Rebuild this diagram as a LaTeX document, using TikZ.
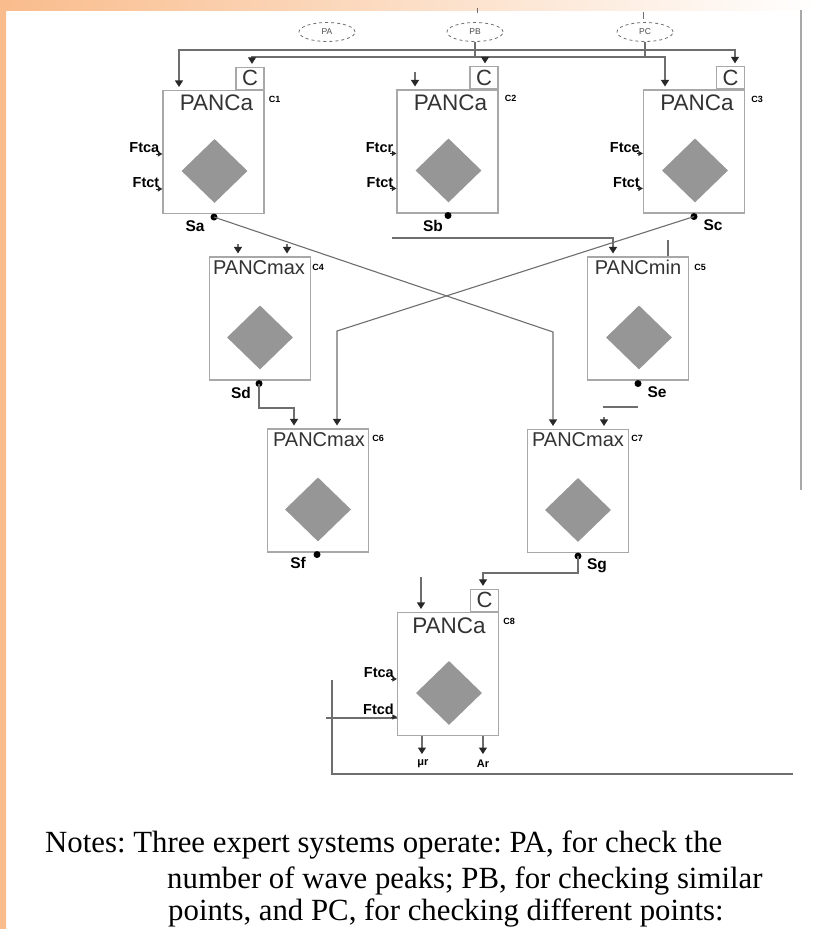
\documentclass[tikz,border=0pt]{standalone}
\usepackage{fontspec}
\setmainfont{Liberation Serif}
\newfontfamily\arial{Liberation Sans}
\usetikzlibrary{arrows.meta,shapes.geometric,calc}
\definecolor{boxc}{RGB}{168,168,168}
\definecolor{linec}{RGB}{110,110,110}
\definecolor{diac}{RGB}{150,150,150}
\definecolor{arrc}{RGB}{40,40,40}
\definecolor{peach}{RGB}{249,188,140}
\definecolor{peachl}{RGB}{253,228,208}
\tikzset{
  panc/.style={draw=boxc, line width=1.1pt, minimum width=101pt, minimum height=123pt, inner sep=0pt},
  cbox/.style={draw=boxc, line width=1.1pt, minimum width=28pt, minimum height=22pt, inner sep=0pt,
    font=\arial\fontsize{22}{22}\selectfont, text=black!80, anchor=south east},
  titlea/.style={font=\arial\fontsize{22.5}{22.5}\selectfont, text=black!80, inner sep=0pt},
  titlem/.style={font=\arial\fontsize{20}{20}\selectfont, text=black!80, inner sep=0pt},
  dia/.style={diamond, fill=diac, minimum width=66pt, minimum height=64pt, inner sep=0pt},
  clab/.style={font=\arial\bfseries\fontsize{9}{9}\selectfont, inner sep=0pt, anchor=west},
  slab/.style={font=\arial\bfseries\fontsize{15.5}{15.5}\selectfont, inner sep=0pt},
  flab/.style={font=\arial\bfseries\fontsize{14.5}{14.5}\selectfont, inner sep=0pt, anchor=south east},
  olab/.style={font=\arial\bfseries\fontsize{11}{11}\selectfont, inner sep=0pt},
  sdot/.style={circle, fill=black, minimum size=7pt, inner sep=0pt},
  conn/.style={draw=linec, line width=1.1pt},
  tip/.tip={Triangle[width=8pt,length=6.5pt,color=arrc]},
  arr/.style={conn, -tip, shorten >=3pt},
  arrb/.style={conn, tip-tip, shorten >=3pt, shorten <=3pt},
  sarr/.style={draw=arrc, line width=0.9pt, -{Triangle[width=5pt,length=4.5pt]}},
  ell/.style={ellipse, draw=linec, dashed, line width=0.8pt, minimum width=56pt, minimum height=19pt,
    inner sep=0pt, font=\arial\fontsize{8.5}{8.5}\selectfont, text=black!70},
  notes/.style={font=\fontsize{30.8}{34}\selectfont\frenchspacing, inner sep=0pt, anchor=base west}
}
\begin{document}
\begin{tikzpicture}[x=1pt,y=-1pt]
\useasboundingbox (0,0) rectangle (819,929);
\fill[white] (0,0) rectangle (819,929);
% background bands
\shade[left color=peach, right color=white] (0,0) rectangle (819,10);
\shade[top color=peach, bottom color=peach] (0,0) rectangle (6,929);
% right rule
\draw[boxc, line width=1.5pt] (801,10) -- (801,490);

% boxes
\node[panc] (c1) at (213.5,152) {};
\node[panc] (c2) at (447.5,151.5) {};
\node[panc] (c3) at (694,151.5) {};
\node[panc] (c4) at (260,318.5) {};
\node[panc] (c5) at (638,318.5) {};
\node[panc] (c6) at (318,490.5) {};
\node[panc] (c7) at (578,491) {};
\node[panc] (c8) at (448,674) {};

% C boxes
\node[cbox] (cc1) at (c1.north east) {C};
\node[cbox] (cc2) at (c2.north east) {C};
\node[cbox] (cc3) at (c3.north east) {C};
\node[cbox] (cc8) at (c8.north east) {C};

% titles
\node[titlea] (t1) at ($(c1.north)+(3,13)$) {PANCa};
\node[titlea] (t2) at ($(c2.north)+(3,13)$) {PANCa};
\node[titlea] (t3) at ($(c3.north)+(3,13)$) {PANCa};
\node[titlem] (t4) at ($(c4.north)+(-1,11)$) {PANCmax};
\node[titlem] (t5) at ($(c5.north)+(0,11)$) {PANCmin};
\node[titlem] (t6) at ($(c6.north)+(1,11)$) {PANCmax};
\node[titlem] (t7) at ($(c7.north)+(0,11)$) {PANCmax};
\node[titlea] (t8) at ($(c8.north)+(1,14)$) {PANCa};

% small labels
\node[clab] (l1) at ($(c1.north east)+(4,9)$) {C1};
\node[clab] (l2) at ($(c2.north east)+(6,9)$) {C2};
\node[clab] (l3) at ($(c3.north east)+(6,10)$) {C3};
\node[clab] (l4) at ($(c4.north east)+(1,11)$) {C4};
\node[clab] (l5) at ($(c5.north east)+(5,11)$) {C5};
\node[clab] (l6) at ($(c6.north east)+(3,10)$) {C6};
\node[clab] (l7) at ($(c7.north east)+(2,9)$) {C7};
\node[clab] (l8) at ($(c8.north east)+(4,9)$) {C8};

% diamonds
\node[dia] (d1) at ($(c1.north)+(1,81)$) {};
\node[dia] (d2) at ($(c2.north)+(1,81)$) {};
\node[dia] (d3) at ($(c3.north)+(1,81)$) {};
\node[dia] (d4) at ($(c4.north)+(0,81)$) {};
\node[dia] (d5) at ($(c5.north)+(1,81)$) {};
\node[dia] (d6) at ($(c6.north)+(0,81)$) {};
\node[dia] (d7) at ($(c7.north)+(0,81)$) {};
\node[dia] (d8) at ($(c8.north)+(1,81)$) {};

% output dots
\node[sdot] (sa) at ($(c1.south)+(0.5,3)$) {};
\node[sdot] (sb) at ($(c2.south)+(0.5,2)$) {};
\node[sdot] (sc) at ($(c3.south)+(0,3)$) {};
\node[sdot] (sd) at ($(c4.south)+(-1,3)$) {};
\node[sdot] (se) at ($(c5.south)+(0,3)$) {};
\node[sdot] (sf) at ($(c6.south)+(-1,2)$) {};
\node[sdot] (sg) at ($(c7.south)+(0,3)$) {};
\node[slab] at ($(sa)+(-19,9)$) {Sa};
\node[slab] at ($(sb)+(-15,10)$) {Sb};
\node[slab] at ($(sc)+(19,9)$) {Sc};
\node[slab] at ($(sd)+(-18,9)$) {Sd};
\node[slab] at ($(se)+(19,9)$) {Se};
\node[slab] at ($(sf)+(-19,8)$) {Sf};
\node[slab] at ($(sg)+(19,10)$) {Sg};

% input labels
\foreach \b/\la/\lb in {c1/Ftca/Ftct, c2/Ftcr/Ftct, c3/Ftce/Ftct}{
  \draw[sarr] ($(\b.north west)+(-6,64)$) -- ($(\b.north west)+(0,64)$);
  \draw[sarr] ($(\b.north west)+(-6,99)$) -- ($(\b.north west)+(0,99)$);
  \node[flab] at ($(\b.north west)+(-3,63)$) {\la};
  \node[flab] at ($(\b.north west)+(-3,98)$) {\lb};
}
\draw[sarr] ($(c8.north west)+(-6,67)$) -- ($(c8.north west)+(0,67)$);
\node[flab] at ($(c8.north west)+(-3,66)$) {Ftca};
\node[flab] at ($(c8.north west)+(-3,103)$) {Ftcd};

% ellipses
\node[ell] (pa) at (327,32) {PA};
\node[ell] (pb) at (475,32) {PB};
\node[ell] (pc) at (645,32) {PC};
\draw[linec, line width=0.8pt] (477,8) -- (477,13);
\draw[linec, line width=0.8pt] (643,12) -- (643,19);

% top distribution lines
\coordinate (u1) at (179,50);
\coordinate (u2) at (735,50);
\coordinate (w1) at (252,57);
\coordinate (w2) at (665,57);
\coordinate (w3) at (485,57);
\coordinate (w4) at (415,72);
\draw[arrb] (u2|-cc3.north) -- (u2) -- (u1) -- (u1|-c1.north);
\draw[arrb] (w1|-cc1.north) -- (w1) -- (w2) -- (w2|-c3.north);
\draw[conn] (pb.south) -- (pb.south|-w1);
\draw[conn] (pc.south) -- (pc.south|-w1);
\draw[arr] (w3) -- (w3|-cc2.north);
\draw[arr] (w4) -- (w4|-c2.north);

% crossing connectors
\coordinate (k1) at (553,332);
\coordinate (k2) at (337,331);
\draw[arr] (sa.center) -- (k1) -- (k1|-c7.north);
\draw[arr] (sc.center) -- (k2) -- (k2|-c6.north);

% Sb line to C5
\coordinate (b1) at (392,238);
\coordinate (b2) at (613,238);
\coordinate (b3) at (668,240);
\draw[arr] (b1) -- (b2) -- (b2|-c5.north);
\draw[conn] (b3) -- (b3|-c5.north);

% C4 inputs
\coordinate (i1) at (238,244);
\coordinate (i2) at (287,244);
\draw[arr] (i1) -- (i1|-c4.north);
\draw[arr] (i2) -- (i2|-c4.north);

% Sd to C6
\coordinate (k3) at (294,408);
\draw[arr] (sd.center) |- (k3) -- (k3|-c6.north);

% Se side
\coordinate (e1) at (603,407);
\coordinate (e2) at (638,407);
\coordinate (e3) at (604,417);
\draw[conn] (e1) -- (e2);
\draw[arr] (e3) -- (e3|-c7.north);

% Sg to C8
\coordinate (k4) at (483,573);
\coordinate (k5) at (421,577);
\draw[arr] (sg.center) |- (k4) -- (k4|-cc8.north);
\draw[arr] (k5) -- (k5|-c8.north);

% C8 feedback / inputs
\coordinate (f1) at (326,718);
\coordinate (f2) at (332,680);
\coordinate (f3) at (332,774);
\coordinate (f4) at (793,774);
\draw[conn] (f1) -- (f1-|c8.west);
\draw[sarr] ($(c8.north west)+(-6,105)$) -- ($(c8.north west)+(0,105)$);
\draw[conn] (f2) -- (f3) -- (f4);

% C8 outputs
\coordinate (o1) at ($(c8.south west)+(25,0)$);
\coordinate (o2) at ($(c8.south west)+(86,0)$);
\draw[conn, -tip] (o1) -- ++(0,18);
\draw[conn, -tip] (o2) -- ++(0,18);
\node[olab] at ($(o1)+(1,28)$) {μr};
\node[olab] at ($(o2)+(0,28)$) {Ar};

% notes
\node[notes] (n1) at (45,852) {Notes: Three expert systems operate: PA, for check the};
\node[notes] (n2) at (167,888) {number of wave peaks; PB, for checking similar};
\node[notes] (n3) at (168,920) {points, and PC, for checking different points:};
\end{tikzpicture}
\end{document}
